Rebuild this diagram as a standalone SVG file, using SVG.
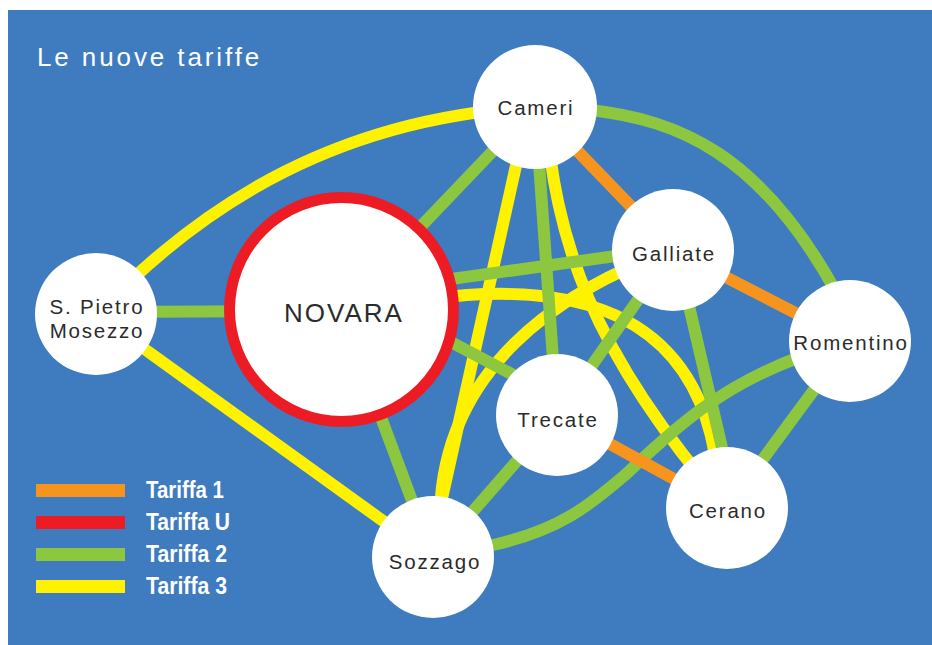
<svg xmlns="http://www.w3.org/2000/svg" width="932" height="645" viewBox="0 0 932 645">
<style>
.e{fill:none;stroke-width:12;}
.y{stroke:#fff200;}
.g{stroke:#8dc63f;}
.o{stroke:#f7941d;}
.n{fill:#ffffff;}
.t{font-family:"Liberation Sans",Arial,sans-serif;font-size:20.5px;fill:#2b2b2b;text-anchor:middle;letter-spacing:1.8px;}
.lg{font-family:"Liberation Sans",Arial,sans-serif;font-size:23px;font-weight:bold;fill:#ffffff;}
</style>
<rect x="0" y="0" width="932" height="645" fill="#ffffff"/>
<rect x="8" y="10" width="924" height="635" fill="#3e7bbf"/>
<text x="37" y="66" font-family="Liberation Sans,Arial,sans-serif" font-size="26" fill="#ffffff" letter-spacing="2.9">Le nuove tariffe</text>
<g id="connectors">
  <path class="e y" d="M96 314 C170 240 300 120 535 107"/>
  <path class="e y" d="M96 314 L433 557"/>
  <path class="e y" d="M529 107 L429 557"/>
  <path class="e y" d="M545 107 C555 240 590 350 727 508"/>
  <path class="e y" d="M430 299 C570 280 690 310 715 455"/>
  <path class="e y" d="M673 250 C560 290 440 370 440 520"/>
  <path class="e g" d="M96 312 L300 311"/>
  <path class="e g" d="M341 310 L535 107"/>
  <path class="e g" d="M430 282 L673 248"/>
  <path class="e g" d="M430 331 L557 398"/>
  <path class="e g" d="M341 310 L433 557"/>
  <path class="e g" d="M535 107 L557 415"/>
  <path class="e g" d="M590 110 C680 120 760 155 835 290"/>
  <path class="e g" d="M673 250 L557 415"/>
  <path class="e g" d="M676 250 L736 508"/>
  <path class="e g" d="M850 341 L727 508"/>
  <path class="e g" d="M440 556 L493 545 C560 530 590 505 625 475 C668 435 715 388 800 357"/>
  <path class="e g" d="M557 415 L433 557"/>
  <path class="e o" d="M535 107 L673 250"/>
  <path class="e o" d="M673 250 L850 341"/>
  <path class="e o" d="M557 415 L727 508"/>
</g>
<g id="novara"><circle cx="341.5" cy="309.5" r="112" fill="#ffffff" stroke="#ed1c24" stroke-width="11"/><text class="t" x="344" y="322" style="font-size:26px;letter-spacing:2px">NOVARA</text></g>
<g id="spietro"><circle class="n" cx="96" cy="314" r="61"/><text class="t" x="97" y="314">S. Pietro</text><text class="t" x="97" y="338">Mosezzo</text></g>
<g id="cameri"><circle class="n" cx="535" cy="107" r="62"/><text class="t" x="536" y="115">Cameri</text></g>
<g id="galliate"><circle class="n" cx="673" cy="250" r="61"/><text class="t" x="674" y="261">Galliate</text></g>
<g id="romentino"><circle class="n" cx="850" cy="341" r="61"/><text class="t" x="851" y="350">Romentino</text></g>
<g id="trecate"><circle class="n" cx="557" cy="415" r="61"/><text class="t" x="558" y="427">Trecate</text></g>
<g id="sozzago"><circle class="n" cx="433" cy="557" r="61"/><text class="t" x="435" y="569">Sozzago</text></g>
<g id="cerano"><circle class="n" cx="727" cy="508" r="61"/><text class="t" x="728" y="518">Cerano</text></g>
<g id="legend">
  <rect x="36" y="484" width="89" height="13" fill="#f7941d"/>
  <rect x="36" y="516" width="89" height="13" fill="#ed1c24"/>
  <rect x="36" y="548" width="89" height="13" fill="#8dc63f"/>
  <rect x="36" y="580" width="89" height="13" fill="#fff200"/>
  <text class="lg" x="146" y="498" textLength="78" lengthAdjust="spacingAndGlyphs">Tariffa 1</text>
  <text class="lg" x="146" y="530" textLength="84" lengthAdjust="spacingAndGlyphs">Tariffa U</text>
  <text class="lg" x="146" y="562" textLength="81" lengthAdjust="spacingAndGlyphs">Tariffa 2</text>
  <text class="lg" x="146" y="594" textLength="81" lengthAdjust="spacingAndGlyphs">Tariffa 3</text>
</g>
</svg>
